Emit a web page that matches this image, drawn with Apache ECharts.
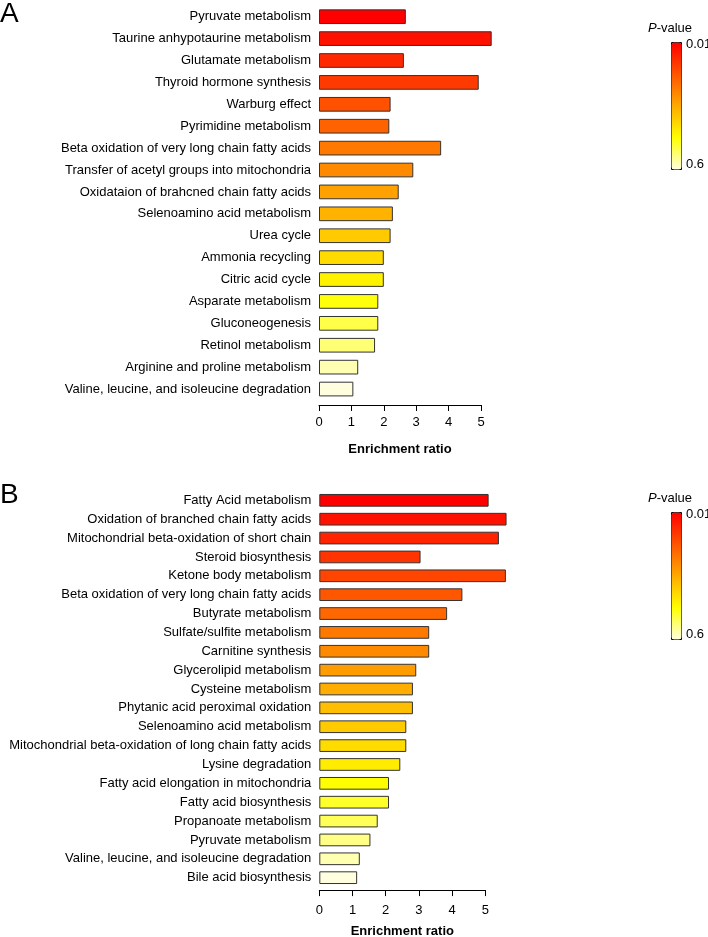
<!DOCTYPE html>
<html>
<head>
<meta charset="utf-8">
<script src="https://cdn.jsdelivr.net/npm/echarts@6/dist/echarts.min.js"></script>
<style>
  html, body { margin: 0; padding: 0; background: #fff; }
  #chart { width: 708px; height: 937px; }
</style>
</head>
<body>
<div id="chart"></div>
<script>
// panel A
var pathwaysA = [
  'Pyruvate metabolism', 'Taurine anhypotaurine metabolism', 'Glutamate metabolism',
  'Thyroid hormone synthesis', 'Warburg effect', 'Pyrimidine metabolism',
  'Beta oxidation of very long chain fatty acids', 'Transfer of acetyl groups into mitochondria',
  'Oxidataion of brahcned chain fatty acids', 'Selenoamino acid metabolism', 'Urea cycle',
  'Ammonia recycling', 'Citric acid cycle', 'Asparate metabolism', 'Gluconeogenesis',
  'Retinol metabolism', 'Arginine and proline metabolism', 'Valine, leucine, and isoleucine degradation'
];
var ratioA = [2.68, 5.33, 2.62, 4.93, 2.21, 2.17, 3.77, 2.91, 2.46, 2.28, 2.21, 2.0, 2.0, 1.83, 1.83, 1.73, 1.21, 1.06];
var pValueA = [0.01, 0.04, 0.08, 0.11, 0.15, 0.18, 0.22, 0.25, 0.29, 0.32, 0.36, 0.39, 0.43, 0.46, 0.50, 0.53, 0.57, 0.60];

// panel B
var pathwaysB = [
  'Fatty Acid metabolism', 'Oxidation of branched chain fatty acids',
  'Mitochondrial beta-oxidation of short chain', 'Steroid biosynthesis', 'Ketone body metabolism',
  'Beta oxidation of very long chain fatty acids', 'Butyrate metabolism', 'Sulfate/sulfite metabolism',
  'Carnitine synthesis', 'Glycerolipid metabolism', 'Cysteine metabolism',
  'Phytanic acid peroximal oxidation', 'Selenoamino acid metabolism',
  'Mitochondrial beta-oxidation of long chain fatty acids', 'Lysine degradation',
  'Fatty acid elongation in mitochondria', 'Fatty acid biosynthesis', 'Propanoate metabolism',
  'Pyruvate metabolism', 'Valine, leucine, and isoleucine degradation', 'Bile acid biosynthesis'
];
var ratioB = [5.10, 5.64, 5.41, 3.05, 5.62, 4.31, 3.85, 3.31, 3.31, 2.92, 2.82, 2.82, 2.62, 2.62, 2.44, 2.10, 2.10, 1.76, 1.54, 1.22, 1.14];
var pValueB = [0.01, 0.04, 0.07, 0.10, 0.13, 0.16, 0.19, 0.22, 0.25, 0.28, 0.31, 0.34, 0.36, 0.39, 0.42, 0.45, 0.48, 0.51, 0.54, 0.57, 0.60];

var ratioTicks = [0, 1, 2, 3, 4, 5];
var pLabels = ['0.01', '0.6'];
var heatColors = ['#ff0000', '#ff5500', '#ffaa00', '#ffff00', '#ffffe0'];

var FONT = 'Liberation Sans, Arial, Helvetica, sans-serif';

function rows(names, ratios, pvals) {
  return names.map(function (n, i) { return [ratios[i], n, pvals[i]]; });
}

function xAxisFor(idx, offset, gap, margin) {
  return {
    type: 'value', gridIndex: idx, min: ratioTicks[0], max: ratioTicks[ratioTicks.length - 1], interval: 1,
    offset: offset,
    name: 'Enrichment ratio', nameLocation: 'middle', nameGap: gap,
    nameTextStyle: { color: '#000', fontSize: 13, fontWeight: 'bold', fontFamily: FONT },
    axisLine: { show: true, lineStyle: { color: '#000', width: 1 } },
    axisTick: { show: true, length: 6, lineStyle: { color: '#000' } },
    axisLabel: { color: '#000', fontSize: 13, fontFamily: FONT, margin: margin },
    splitLine: { show: false }
  };
}

function yAxisFor(idx, names) {
  return {
    type: 'category', gridIndex: idx, data: names, inverse: true,
    axisLine: { show: false }, axisTick: { show: false },
    axisLabel: { color: '#000', fontSize: 13, fontFamily: FONT, margin: 8 }
  };
}

function legendFor(idx, top) {
  return {
    type: 'continuous', seriesIndex: idx, dimension: 2,
    min: 0.01, max: 0.6, inverse: true, calculable: false,
    left: 671, top: top, itemWidth: 10, itemHeight: 127,
    padding: 0, borderWidth: 1, borderColor: '#000',
    text: ['', ''], inRange: { color: heatColors }
  };
}

function legendTexts(top) {
  return [
    { type: 'text', left: 648, top: top - 20, style: {
        text: '{i|P}-value', font: '13px ' + FONT, fill: '#000',
        rich: { i: { fontStyle: 'italic', fontSize: 13, fontFamily: FONT } } } },
    { type: 'text', left: 686, top: top - 4, style: { text: pLabels[0], font: '13px ' + FONT, fill: '#000' } },
    { type: 'text', left: 686, top: top + 116, style: { text: pLabels[1], font: '13px ' + FONT, fill: '#000' } }
  ];
}

var chart = echarts.init(document.getElementById('chart'));
chart.setOption({
  animation: false,
  textStyle: { fontFamily: FONT },
  grid: [
    { left: 319, top: 5.75, width: 162, height: 394.25, outerBoundsMode: 'none' },
    { left: 319.3, top: 490.9, width: 166, height: 396.2, outerBoundsMode: 'none' }
  ],
  xAxis: [xAxisFor(0, 5, 38, 11), xAxisFor(1, 3, 35, 14)],
  yAxis: [yAxisFor(0, pathwaysA), yAxisFor(1, pathwaysB)],
  visualMap: [legendFor(0, 42), legendFor(1, 512)],
  series: [
    {
      type: 'bar', xAxisIndex: 0, yAxisIndex: 0, barWidth: 14.7, clip: false,
      itemStyle: { borderColor: '#333', borderWidth: 1 },
      data: rows(pathwaysA, ratioA, pValueA)
    },
    {
      type: 'bar', xAxisIndex: 1, yAxisIndex: 1, barWidth: 12.7, clip: false,
      itemStyle: { borderColor: '#333', borderWidth: 1 },
      data: rows(pathwaysB, ratioB, pValueB)
    }
  ],
  graphic: [
    { type: 'text', left: 0, top: 0, style: { text: 'A', font: '28px ' + FONT, fill: '#000' } },
    { type: 'text', left: 0, top: 481, style: { text: 'B', font: '28px ' + FONT, fill: '#000' } }
  ].concat(legendTexts(42), legendTexts(512))
});
</script>
</body>
</html>
